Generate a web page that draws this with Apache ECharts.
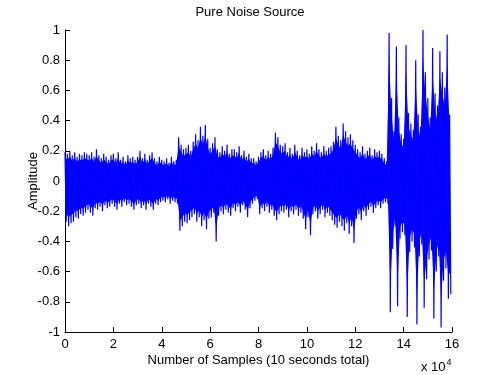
<!DOCTYPE html>
<html>
<head>
<meta charset="utf-8">
<script src="https://cdn.jsdelivr.net/npm/echarts@6/dist/echarts.min.js"></script>
<style>
html,body{margin:0;padding:0;background:#fff;}
#c{width:500px;height:375px;}
</style>
</head>
<body>
<div id="c"></div>
<script>
// Envelope of the noise trace, one pair per 1000-sample bin
const binSize = 1000;
const upper = [
  0.19, 0.18, 0.20, 0.17, 0.19, 0.16, 0.18, 0.17, 0.19, 0.18,
  0.17, 0.19, 0.16, 0.21, 0.17, 0.15, 0.18, 0.16, 0.14, 0.17,
  0.18, 0.15, 0.19, 0.14, 0.16, 0.13, 0.17, 0.15, 0.16, 0.14,
  0.16, 0.20, 0.15, 0.18, 0.14, 0.17, 0.19, 0.15, 0.13, 0.16,
  0.14, 0.13, 0.15, 0.12, 0.16, 0.13, 0.14, 0.29, 0.24, 0.21,
  0.22, 0.24, 0.20, 0.26, 0.31, 0.27, 0.36, 0.30, 0.37, 0.28,
  0.22, 0.25, 0.29, 0.21, 0.19, 0.23, 0.20, 0.24, 0.18, 0.21,
  0.21, 0.19, 0.23, 0.17, 0.20, 0.16, 0.18, 0.15, 0.15, 0.13,
  0.16, 0.19, 0.21, 0.17, 0.20, 0.18, 0.22, 0.32, 0.29, 0.24,
  0.23, 0.25, 0.19, 0.22, 0.18, 0.24, 0.20, 0.17, 0.22, 0.19,
  0.21, 0.18, 0.23, 0.20, 0.25, 0.21, 0.19, 0.23, 0.20, 0.22,
  0.23, 0.26, 0.36, 0.30, 0.27, 0.38, 0.33, 0.29, 0.31, 0.27,
  0.24, 0.21, 0.19, 0.23, 0.18, 0.20, 0.22, 0.17, 0.21, 0.19,
  0.20, 0.18, 0.15, 0.13, 0.98, 0.55, 0.33, 0.89, 0.42, 0.31,
  0.28, 0.90, 0.45, 0.38, 0.34, 0.80, 0.44, 0.36, 1.00, 0.72,
  0.55, 0.42, 0.88, 0.58, 0.50, 0.86, 0.72, 0.62, 0.97, 0.44
];
const lower = [
  -0.27, -0.30, -0.28, -0.27, -0.24, -0.25, -0.22, -0.23, -0.21, -0.19,
  -0.21, -0.23, -0.18, -0.19, -0.17, -0.20, -0.16, -0.18, -0.17, -0.15,
  -0.17, -0.19, -0.15, -0.17, -0.14, -0.16, -0.15, -0.17, -0.19, -0.16,
  -0.15, -0.18, -0.16, -0.19, -0.15, -0.17, -0.19, -0.15, -0.16, -0.14,
  -0.13, -0.14, -0.12, -0.15, -0.13, -0.14, -0.15, -0.33, -0.30, -0.27,
  -0.28, -0.26, -0.24, -0.22, -0.27, -0.24, -0.30, -0.26, -0.32, -0.25,
  -0.24, -0.21, -0.40, -0.23, -0.20, -0.22, -0.19, -0.21, -0.23, -0.18,
  -0.20, -0.17, -0.21, -0.16, -0.19, -0.24, -0.18, -0.15, -0.13, -0.12,
  -0.22, -0.18, -0.20, -0.17, -0.21, -0.19, -0.23, -0.26, -0.22, -0.20,
  -0.21, -0.19, -0.24, -0.20, -0.22, -0.19, -0.23, -0.21, -0.25, -0.32,
  -0.24, -0.36, -0.22, -0.20, -0.25, -0.22, -0.19, -0.24, -0.21, -0.23,
  -0.26, -0.29, -0.31, -0.27, -0.30, -0.33, -0.28, -0.35, -0.30, -0.41,
  -0.25, -0.22, -0.26, -0.20, -0.23, -0.19, -0.17, -0.21, -0.18, -0.16,
  -0.18, -0.15, -0.14, -0.15, -0.87, -0.45, -0.30, -0.83, -0.38, -0.34,
  -0.36, -0.90, -0.47, -0.40, -0.44, -0.95, -0.50, -0.42, -0.84, -0.65,
  -0.52, -0.46, -0.91, -0.60, -0.50, -0.97, -0.66, -0.58, -0.78, -0.75
];
const xTicks = [0, 2, 4, 6, 8, 10, 12, 14, 16];
const yTicks = [-1, -0.8, -0.6, -0.4, -0.2, 0, 0.2, 0.4, 0.6, 0.8, 1];
const titleText = 'Pure Noise Source';
const xLabelText = 'Number of Samples (10 seconds total)';
const yLabelText = 'Amplitude';

// zigzag trace: bin max then bin min
const trace = [];
for (let i = 0; i < upper.length; i++) {
  trace.push([i * binSize, upper[i]]);
  trace.push([i * binSize + binSize / 2, lower[i]]);
}
// band segments between consecutive bins (solid body of the dense trace)
const band = [];
for (let i = 0; i < upper.length - 1; i++) {
  band.push([i * binSize, upper[i], lower[i], (i + 1) * binSize, upper[i + 1], lower[i + 1]]);
}

const blue = '#0000ff';
const coreFraction = 0.8; // the dense, fully-inked part of the trace
const font = '"Liberation Sans", Arial, Helvetica, sans-serif';
const chart = echarts.init(document.getElementById('c'), null, {renderer: 'canvas'});
chart.setOption({
  animation: false,
  backgroundColor: '#ffffff',
  grid: {left: 65, top: 30, width: 387, height: 302},
  xAxis: {
    type: 'value',
    min: xTicks[0] * 1e4,
    max: xTicks[xTicks.length - 1] * 1e4,
    interval: 2e4,
    axisLine: {show: true, onZero: false, lineStyle: {color: '#000', width: 1}},
    axisTick: {show: true, inside: true, length: 5, lineStyle: {color: '#000'}},
    splitLine: {show: false},
    axisLabel: {
      color: '#000', fontFamily: font, fontSize: 13, margin: 6,
      formatter: v => String(Math.round(v / 1e4))
    }
  },
  yAxis: {
    type: 'value',
    min: yTicks[0],
    max: yTicks[yTicks.length - 1],
    interval: 0.2,
    axisLine: {show: true, onZero: false, lineStyle: {color: '#000', width: 1}},
    axisTick: {show: true, inside: true, length: 5, lineStyle: {color: '#000'}},
    splitLine: {show: false},
    axisLabel: {
      color: '#000', fontFamily: font, fontSize: 13, margin: 5,
      formatter: v => String(+v.toFixed(1))
    }
  },
  series: [{
    type: 'custom',
    data: band,
    encode: {x: [0, 3], y: [1, 2, 4, 5]},
    clip: true,
    z: 1,
    renderItem: function (params, api) {
      const a = api.coord([api.value(0), api.value(1) * coreFraction]);
      const b = api.coord([api.value(3), api.value(4) * coreFraction]);
      const c = api.coord([api.value(3) + binSize / 2, api.value(5) * coreFraction]);
      const d = api.coord([api.value(0) + binSize / 2, api.value(2) * coreFraction]);
      return {type: 'polygon', shape: {points: [a, b, c, d]}, style: {fill: blue, stroke: null}};
    }
  }, {
    type: 'line',
    data: trace,
    showSymbol: false,
    symbol: 'none',
    sampling: null,
    lineStyle: {color: blue, width: 1.2, join: 'bevel'},
    z: 2
  }],
  graphic: [
    {type: 'text', left: 'center', top: 6, style: {text: titleText, fill: '#000', font: '13px ' + font}},
    {type: 'text', x: 258.5, y: 360, style: {text: xLabelText, fill: '#000', font: '13px ' + font, align: 'center', verticalAlign: 'middle'}},
    {type: 'text', x: 33, y: 181, rotation: Math.PI / 2, style: {text: yLabelText, fill: '#000', font: '13px ' + font, align: 'center', verticalAlign: 'middle'}},
    {type: 'text', x: 421, y: 367, style: {
      text: 'x 10{s|4}', fill: '#000', font: '13px ' + font, verticalAlign: 'middle',
      rich: {s: {fontSize: 9, fontFamily: font, fill: '#000', padding: [0, 0, 9, 1]}}
    }}
  ]
});
</script>
</body>
</html>
